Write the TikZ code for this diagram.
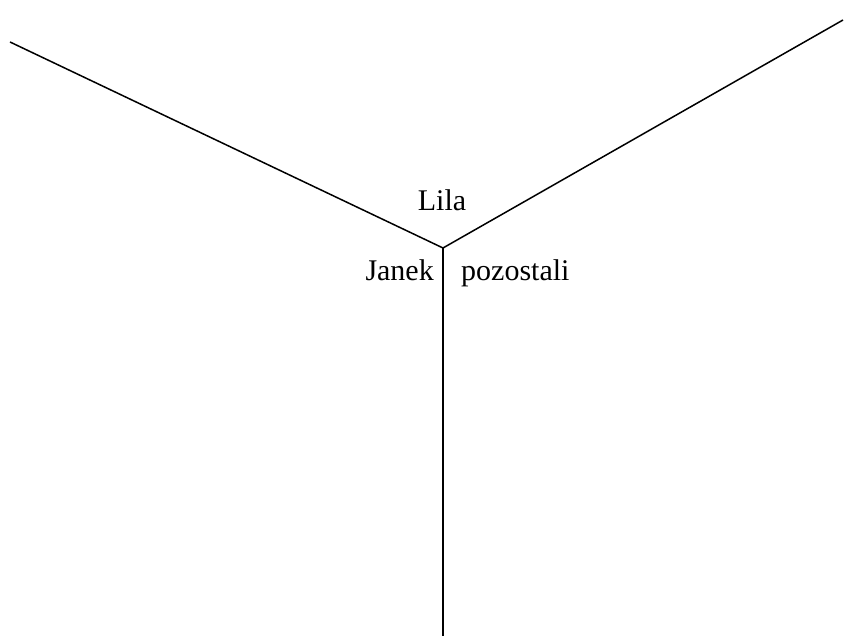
\documentclass[tikz,border=0pt]{standalone}
\usepackage{fontspec}
\setmainfont{Liberation Serif}
\begin{document}
\begin{tikzpicture}[x=1pt,y=1pt,
  branch/.style={line width=1.5pt},
  lab/.style={inner sep=0pt,font=\fontsize{30}{36}\selectfont}]
\useasboundingbox (0,0) rectangle (853,639);
\coordinate (c) at (443,391);
\coordinate (l) at (10,597);
\coordinate (r) at (843,619);
\coordinate (b) at (443,3);
\draw[branch] (l) -- (c) -- (r);
\draw[branch] (c) -- (b);
\node[lab,anchor=base] (lila) at (442,428) {Lila};
\node[lab,anchor=base east] (janek) at (434,358) {Janek};
\node[lab,anchor=base west] (poz) at (461,358) {pozostali};
\end{tikzpicture}
\end{document}
